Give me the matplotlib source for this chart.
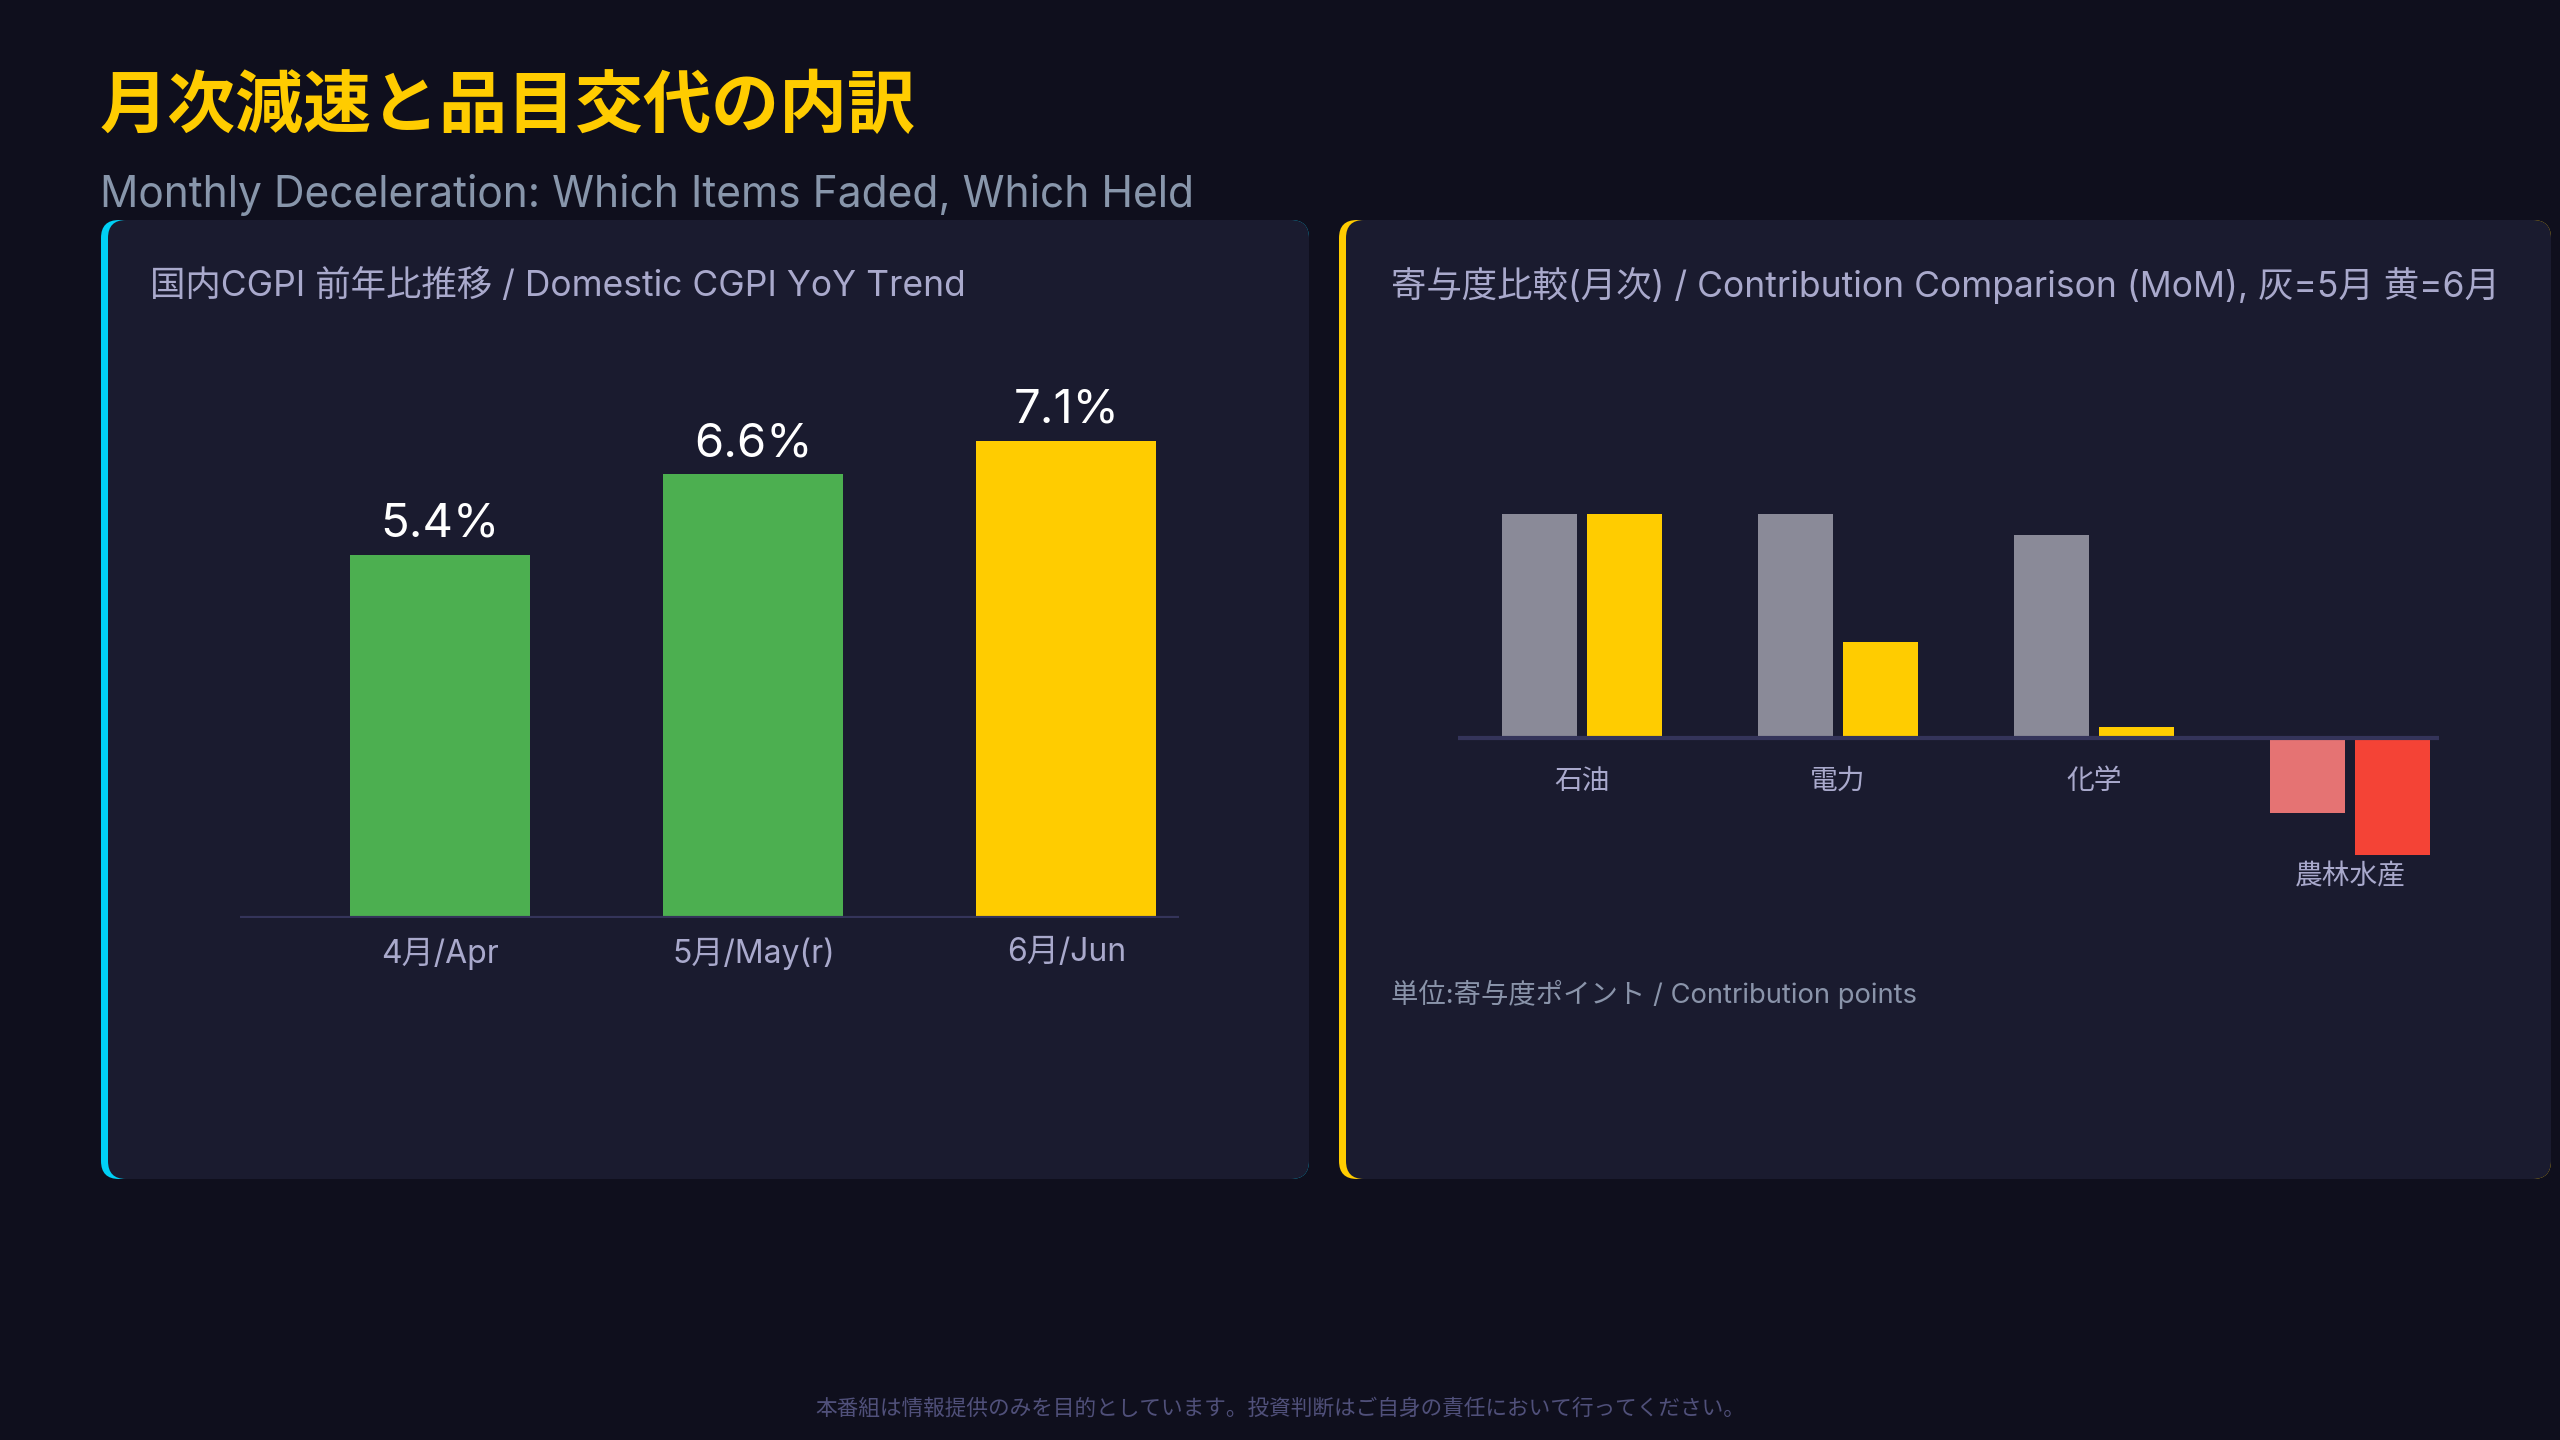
import matplotlib
matplotlib.use("Agg")
import matplotlib.pyplot as plt
from matplotlib.patches import FancyBboxPatch

plt.rcParams['font.family'] = ['Inter', 'Noto Sans CJK JP', 'DejaVu Sans']

### Data
yoy_labels = ["4月/Apr", "5月/May(r)", "6月/Jun"]
yoy_values = [5.4, 6.6, 7.1]

items = ["石油", "電力", "化学", "農林水産"]
contrib_may = [0.21, 0.21, 0.19, -0.07]
contrib_jun = [0.21, 0.09, 0.01, -0.11]

### Colours
BG = "#0f0f1d"
PANEL = "#1a1b2f"
YELLOW = "#ffcc00"
CYAN = "#00d0f5"
GREEN = "#4caf50"
GREY_BAR = "#8a8a98"
PINK = "#e57373"
RED = "#f44336"
LAVENDER = "#a9a9cc"
AXIS_LINE = "#34345a"

W, H = 2560, 1440
fig = plt.figure(figsize=(W / 100, H / 100), dpi=100, facecolor=BG)

# background layer in pixel coordinates (origin top-left)
bg = fig.add_axes([0, 0, 1, 1], zorder=-1)
bg.set_xlim(0, W)
bg.set_ylim(H, 0)
bg.axis("off")


def fx(x):
    return x / W


def fy(y):
    return 1 - y / H


def add_ax(x0, y0, x1, y1):
    # pixel box (top-left origin) -> figure axes
    return fig.add_axes([fx(x0), fy(y1), (x1 - x0) / W, (y1 - y0) / H])


def panel(x0, y0, x1, y1, accent):
    r = 18
    bg.add_patch(FancyBboxPatch((x0, y0), x1 - x0, y1 - y0,
                                boxstyle="round,pad=0,rounding_size=%d" % r,
                                facecolor=accent, edgecolor="none"))
    bg.add_patch(FancyBboxPatch((x0 + 7, y0), x1 - x0 - 7, y1 - y0,
                                boxstyle="round,pad=0,rounding_size=%d" % r,
                                facecolor=PANEL, edgecolor="none"))


### Header
fig.text(fx(100), fy(108), "月次減速と品目交代の内訳", color=YELLOW, fontsize=49,
         fontweight="bold", va="center", ha="left")
fig.text(fx(100), fy(195), "Monthly Deceleration: Which Items Faded, Which Held",
         color="#8896ab", fontsize=30.6, va="center", ha="left")

### Panels
panel(101, 220, 1309, 1179, CYAN)
panel(1339, 220, 2551, 1179, YELLOW)

fig.text(fx(150), fy(286), "国内CGPI 前年比推移 / Domestic CGPI YoY Trend",
         color=LAVENDER, fontsize=25.5, va="center", ha="left")
fig.text(fx(1391), fy(286),
         "寄与度比較(月次) / Contribution Comparison (MoM), 灰=5月 黄=6月",
         color=LAVENDER, fontsize=25.5, va="center", ha="left")

### Left chart: YoY bars
ax1 = add_ax(240, 380, 1179, 918)
ax1.set_facecolor("none")
pos = list(range(len(yoy_values)))
colors1 = [GREEN, GREEN, YELLOW]
bars = ax1.bar(pos, yoy_values, width=0.575, color=colors1, zorder=2)
for b, v in zip(bars, yoy_values):
    ax1.annotate("%.1f%%" % v, (b.get_x() + b.get_width() / 2, v),
                 xytext=(0, 13), textcoords="offset points",
                 ha="center", va="baseline", color="white", fontsize=34)
ax1.axhline(0, color=AXIS_LINE, lw=3, zorder=3)
ax1.set_xlim(-0.64, 2.36)
ax1.set_ylim(0, 8)
ax1.set_xticks(pos)
ax1.set_xticklabels(yoy_labels, color=LAVENDER, fontsize=23)
ax1.tick_params(axis="x", length=0, pad=14)
ax1.set_yticks([])
for s in ax1.spines.values():
    s.set_visible(False)

### Right chart: contribution comparison
ax2 = add_ax(1458, 400, 2439, 1000)
ax2.set_facecolor("none")
bw = 0.29
off = 0.166
xs = list(range(len(items)))
may_colors = [GREY_BAR if v >= 0 else PINK for v in contrib_may]
jun_colors = [YELLOW if v >= 0 else RED for v in contrib_jun]
ax2.bar([x - off for x in xs], contrib_may, width=bw, color=may_colors, zorder=2)
ax2.bar([x + off for x in xs], contrib_jun, width=bw, color=jun_colors, zorder=2)
ax2.axhline(0, color=AXIS_LINE, lw=3, zorder=3)
for x, name, a, b in zip(xs, items, contrib_may, contrib_jun):
    lo = min(0, a, b)
    ly = lo - (0.041 if lo >= 0 else 0.021)
    ax2.text(x, ly, name, ha="center", va="center", color=LAVENDER, fontsize=20)
ax2.set_xlim(-0.484, 3.348)
ax2.set_ylim(-0.2458, 0.3171)
ax2.set_xticks([])
ax2.set_yticks([])
for s in ax2.spines.values():
    s.set_visible(False)

fig.text(fx(1391), fy(994), "単位:寄与度ポイント / Contribution points",
         color="#8a94aa", fontsize=19.7, va="center", ha="left")

### Footer
fig.text(0.5, fy(1408),
         "本番組は情報提供のみを目的としています。投資判断はご自身の責任において行ってください。",
         color="#50507a", fontsize=15.6, va="center", ha="center")

fig.savefig("out.png", dpi=100, facecolor=BG)
